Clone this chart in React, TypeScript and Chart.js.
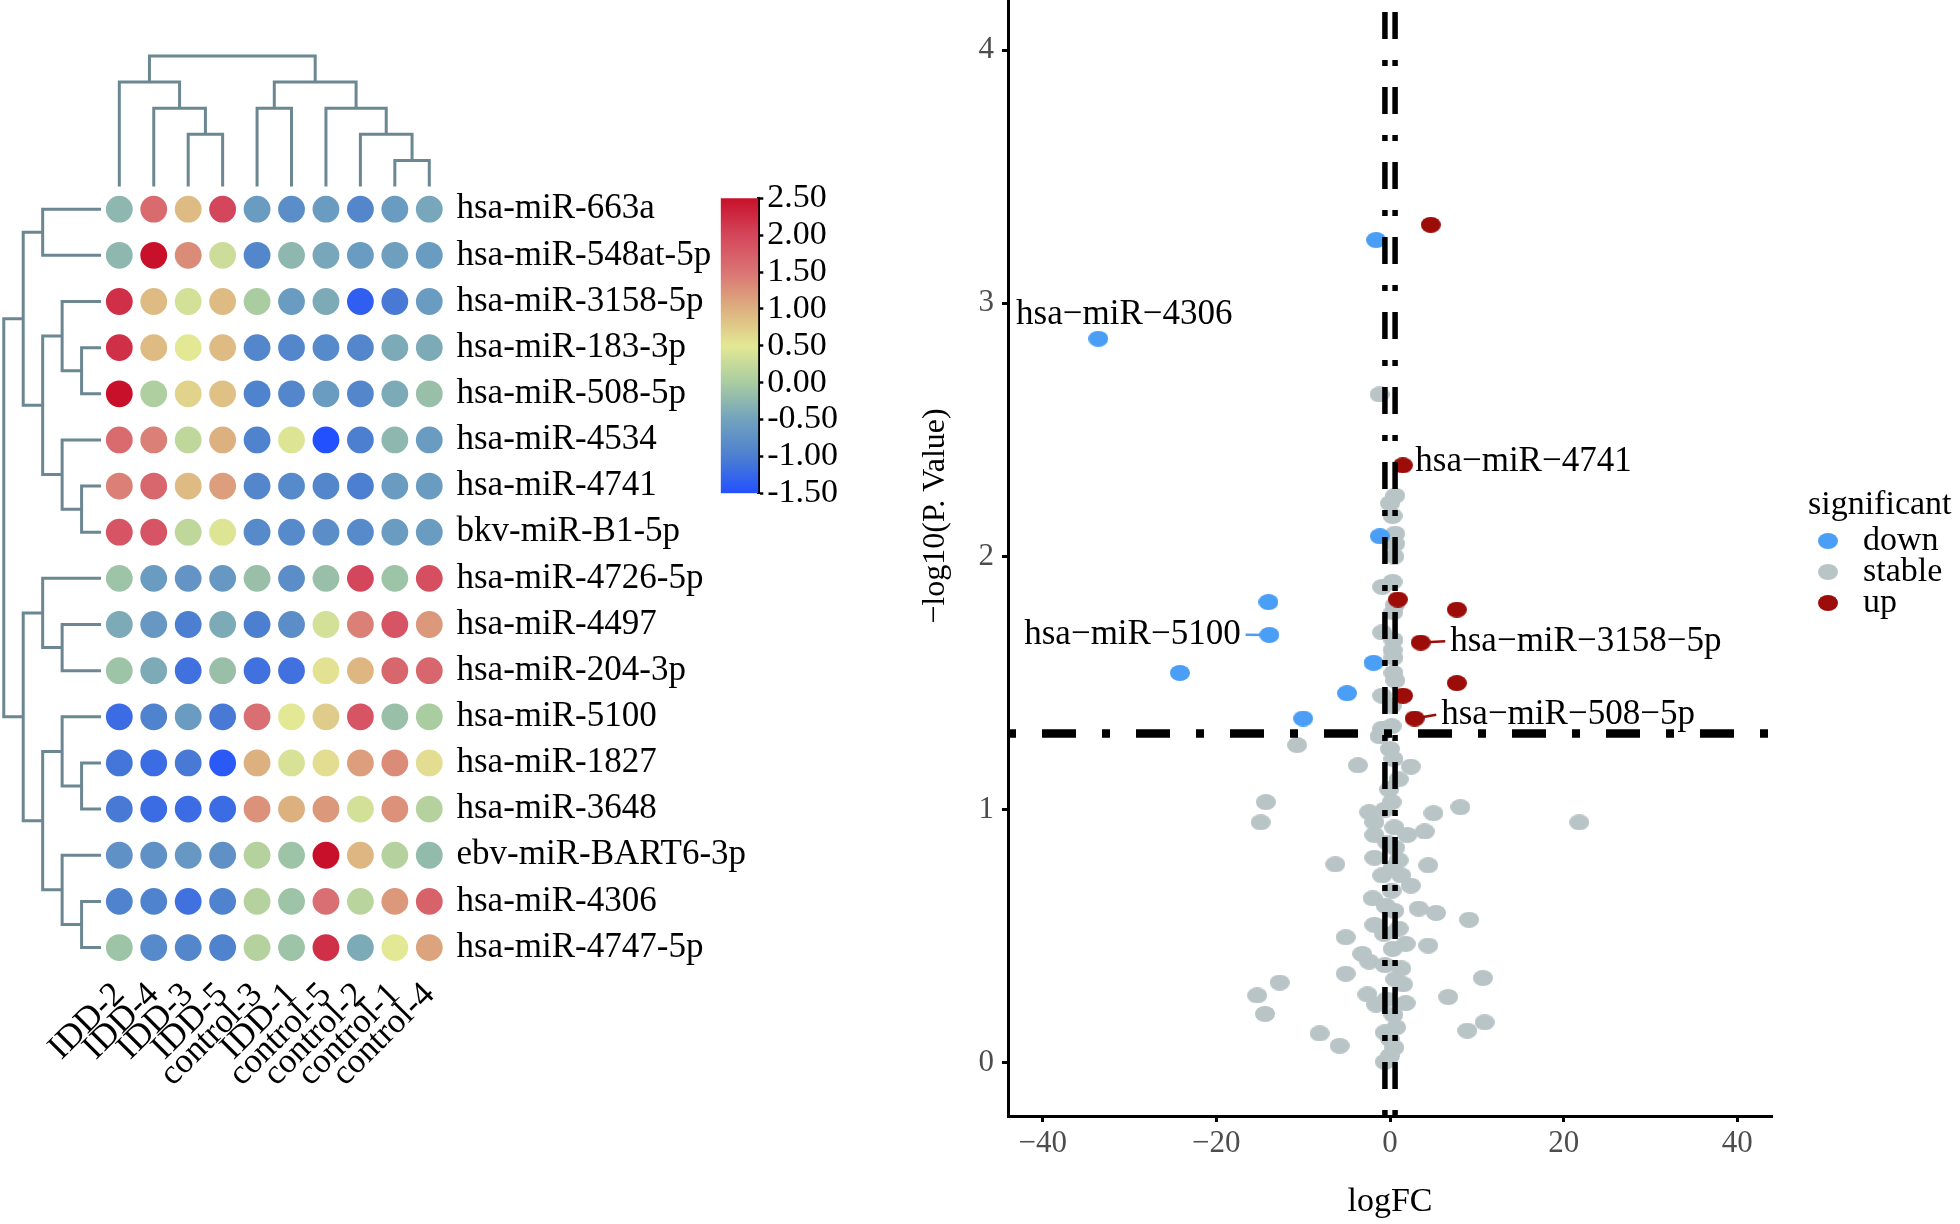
import React, { useEffect, useRef } from 'react';
import { Chart, registerables } from 'chart.js';

Chart.register(...registerables);

const SERIF = '"Liberation Serif", "Times New Roman", Times, serif';

// ---------------- heatmap data ----------------
const sampleNames = ['IDD-2', 'IDD-4', 'IDD-3', 'IDD-5', 'control-3', 'IDD-1', 'control-5', 'control-2', 'control-1', 'control-4'];
const mirnaNames = [
  'hsa-miR-663a', 'hsa-miR-548at-5p', 'hsa-miR-3158-5p', 'hsa-miR-183-3p', 'hsa-miR-508-5p',
  'hsa-miR-4534', 'hsa-miR-4741', 'bkv-miR-B1-5p', 'hsa-miR-4726-5p', 'hsa-miR-4497',
  'hsa-miR-204-3p', 'hsa-miR-5100', 'hsa-miR-1827', 'hsa-miR-3648', 'ebv-miR-BART6-3p',
  'hsa-miR-4306', 'hsa-miR-4747-5p',
];
const zScores = [
  [-0.25, 1.6, 0.9, 2.0, -0.6, -0.8, -0.6, -0.9, -0.6, -0.45],
  [-0.25, 2.5, 1.3, 0.3, -0.9, -0.25, -0.45, -0.6, -0.55, -0.6],
  [2.2, 0.9, 0.35, 0.9, 0.0, -0.6, -0.4, -1.35, -1.05, -0.6],
  [2.2, 0.9, 0.5, 0.9, -0.9, -0.9, -0.85, -0.9, -0.4, -0.4],
  [2.5, 0.05, 0.7, 0.85, -0.95, -0.9, -0.6, -0.9, -0.4, -0.15],
  [1.6, 1.4, 0.2, 1.0, -0.95, 0.45, -1.5, -1.0, -0.25, -0.6],
  [1.4, 1.65, 0.9, 1.15, -0.9, -0.85, -0.9, -1.0, -0.6, -0.6],
  [1.85, 1.85, 0.2, 0.45, -0.85, -0.85, -0.8, -0.85, -0.6, -0.6],
  [-0.1, -0.6, -0.7, -0.65, -0.15, -0.8, -0.15, 2.0, -0.1, 1.9],
  [-0.4, -0.65, -1.0, -0.4, -1.0, -0.8, 0.35, 1.4, 1.85, 1.2],
  [-0.1, -0.4, -1.15, -0.15, -1.15, -1.15, 0.55, 0.95, 1.65, 1.65],
  [-1.2, -0.95, -0.6, -1.05, 1.55, 0.5, 0.75, 1.85, -0.15, 0.0],
  [-1.1, -1.2, -1.05, -1.4, 1.0, 0.4, 0.6, 1.15, 1.3, 0.6],
  [-1.05, -1.2, -1.2, -1.2, 1.25, 1.0, 1.2, 0.35, 1.25, 0.1],
  [-0.75, -0.75, -0.65, -0.75, 0.1, -0.1, 2.5, 0.95, 0.1, -0.2],
  [-0.95, -0.95, -1.15, -0.95, 0.1, -0.1, 1.55, 0.15, 1.2, 1.7],
  [-0.1, -0.85, -0.9, -0.95, 0.1, -0.1, 2.2, -0.4, 0.5, 1.1],
];
// merges: [childA, childB, height]; ids < n are leaves, id n+k is merge k
const colMerges = [
  [2, 3, 2], [1, 10, 3], [0, 11, 4], [8, 9, 1], [7, 13, 2],
  [6, 14, 3], [4, 5, 3], [16, 15, 4], [12, 17, 5],
];
const rowMerges = [
  [3, 4, 1], [2, 17, 2], [6, 7, 1], [5, 19, 2], [18, 20, 3], [0, 1, 3],
  [22, 21, 4], [9, 10, 2], [8, 24, 3], [12, 13, 1], [11, 26, 2], [15, 16, 1],
  [14, 28, 2], [27, 29, 3], [25, 30, 4], [23, 31, 5],
];
const scaleBreaks = [-1.5, -1, -0.5, 0, 0.5, 1, 1.5, 2, 2.5];
const scaleColors = ['#2350ff', '#4c7fd0', '#72a2bd', '#a9cca1', '#e3e894', '#ddb07f', '#da7474', '#d4465b', '#c8102a'];
const colorbarTicks = [-1.5, -1, -0.5, 0, 0.5, 1, 1.5, 2, 2.5];

// ---------------- volcano data ----------------
const downX = [-33.6, -1.6, -1.17, -14.0, -13.9, -24.2, -1.9, -4.95, -10.0];
const downY = [2.86, 3.25, 2.08, 1.82, 1.69, 1.54, 1.58, 1.46, 1.36];
const upX = [4.7, 1.48, 0.9, 7.7, 3.54, 7.7, 1.5, 2.84];
const upY = [3.31, 2.36, 1.83, 1.79, 1.66, 1.5, 1.45, 1.36];
const stableX = [
  -1.2, 0.6, 0.0, 0.3, 0.6, 0.6, 0.5, 0.3, -0.9, 0.6, 0.4, -0.9, 0.4, 0.3, 0.4, 0.4, 0.6, -0.9, 0.2, 0.2, -0.9,
  -1.2, 0.0, 0.4, 1.0, -0.1, 0.2, -0.6, -2.4, -1.8, 0.5, 2.0, -1.8, -0.3, 0.6, -1.8, 1.0, 0.3, -0.9, 1.3, 2.4,
  0.2, -2.0, -0.5, 0.5, -1.8, 1.0, -0.7, 1.8, 0.3, -3.2, -2.4, -0.6, 1.3, 0.6, 1.5, -2.6, -0.4, 1.8, -1.6, 0.4,
  0.7, -0.6, 0.0, 0.5, 0.0, -0.6,
  -10.7, -3.7, 2.4, -14.3, -14.9, 5.0, 8.1, 21.8, 4.0, -6.3, 4.4, 3.3, 5.3, 9.1, -5.1, 4.4, -5.1, -12.7, 10.7,
  -15.3, 6.7, -14.4, 10.9, 8.9, -8.1, -5.8,
];
const stableY = [
  2.64, 2.24, 2.21, 2.16, 2.09, 2.05, 2.0, 1.9, 1.88, 1.81, 1.78, 1.7, 1.67, 1.63, 1.6, 1.54, 1.51, 1.45, 1.41, 1.33, 1.32,
  1.29, 1.24, 1.2, 1.12, 1.08, 1.03, 1.0, 0.99, 0.95, 0.93, 0.9, 0.9, 0.87, 0.85, 0.81, 0.8, 0.77, 0.74, 0.74, 0.7,
  0.68, 0.65, 0.62, 0.6, 0.545, 0.53, 0.51, 0.47, 0.45, 0.43, 0.4, 0.386, 0.373, 0.33, 0.31, 0.27, 0.25, 0.236, 0.23, 0.19,
  0.14, 0.12, 0.094, 0.06, 0.027, 0.004,
  1.255, 1.175, 1.17, 1.03, 0.95, 0.986, 1.01, 0.95, 0.914, 0.784, 0.78, 0.609, 0.592, 0.565, 0.496, 0.463, 0.352, 0.317, 0.335,
  0.266, 0.26, 0.193, 0.16, 0.127, 0.116, 0.067,
];
const groupNames = ['down', 'stable', 'up'];
const groupColors = ['#4a9ef5', '#b8c4c5', '#9c0c08'];
const fcCut = [-0.585, 0.585];
const pCut = 1.301;
const vxTicks = [-40, -20, 0, 20, 40];
const vyTicks = [0, 1, 2, 3, 4];

const labelNames = ['hsa\u2212miR\u22124306', 'hsa\u2212miR\u22124741', 'hsa\u2212miR\u22125100', 'hsa\u2212miR\u22123158\u22125p', 'hsa\u2212miR\u2212508\u22125p'];
const labelGroup = [0, 2, 0, 2, 2];
const labelPointX = [-33.6, 1.48, -13.9, 3.54, 2.84];
const labelPointY = [2.86, 2.36, 1.69, 1.66, 1.36];
const labelTextX = [-43.07, 2.91, -17.2, 6.94, 5.9];
const labelTextY = [2.955, 2.376, 1.691, 1.665, 1.375];
const labelAlign = ['left', 'left', 'right', 'left', 'left'];
const labelSegment = [false, false, true, true, true];

// ---------------- helpers ----------------
function hexToRgb(h: string) {
  const n = parseInt(h.slice(1), 16);
  return [(n >> 16) & 255, (n >> 8) & 255, n & 255];
}
function colorFor(v: number) {
  const last = scaleBreaks.length - 1;
  const c = Math.max(scaleBreaks[0], Math.min(scaleBreaks[last], v));
  let i = 0;
  while (i < last - 1 && c > scaleBreaks[i + 1]) i++;
  const t = (c - scaleBreaks[i]) / (scaleBreaks[i + 1] - scaleBreaks[i]);
  const a = hexToRgb(scaleColors[i]);
  const b = hexToRgb(scaleColors[i + 1]);
  const m = a.map((av, k) => Math.round(av + (b[k] - av) * t));
  return `rgb(${m[0]},${m[1]},${m[2]})`;
}
function dendroSegments(merges: number[][], n: number) {
  const pos: number[] = [];
  const h: number[] = [];
  for (let i = 0; i < n; i++) { pos[i] = i; h[i] = 0; }
  const out: number[][][] = [];
  merges.forEach(([a, b, ht], k) => {
    pos[n + k] = (pos[a] + pos[b]) / 2;
    h[n + k] = ht;
    out.push([[pos[a], h[a]], [pos[a], ht], [pos[b], ht], [pos[b], h[b]]]);
  });
  return out;
}
function ellipseImage(color: string, w: number, h: number) {
  const c = document.createElement('canvas');
  c.width = w; c.height = h;
  const g = c.getContext('2d')!;
  g.fillStyle = color;
  g.beginPath();
  g.ellipse(w / 2, h / 2, w / 2, h / 2, 0, 0, Math.PI * 2);
  g.fill();
  return c;
}
function fixSize(w: number | null, h: number | null) {
  return (s: any) => {
    if (w !== null) s.width = w;
    if (h !== null) s.height = h;
    s.paddingTop = 0; s.paddingBottom = 0; s.paddingLeft = 0; s.paddingRight = 0;
  };
}

// layout constants (axis units)
const COL_DENDRO_BASE = -0.49;
const COL_DENDRO_STEP = 0.566;
const ROW_DENDRO_BASE = -0.53;
const ROW_DENDRO_STEP = 0.565;

const HEAT_W = 820;
const HEAT_H = 1100;
const BAR_W = 200;
const BAR_H = 360;

function heatmapConfig(): any {
  const cells: any[] = [];
  zScores.forEach((row, r) => row.forEach((_v, c) => cells.push({ x: c, y: r })));
  const cellColors = zScores.flat().map(colorFor);
  const lineStyle = {
    showLine: true, borderColor: '#6b8791', borderWidth: 3, pointRadius: 0, fill: false,
    tension: 0, clip: false, borderCapStyle: 'butt', borderJoinStyle: 'miter', order: 1,
  };
  const colSegs = dendroSegments(colMerges, sampleNames.length).map((seg) => ({
    ...lineStyle,
    data: seg.map(([p, h]) => ({ x: p, y: COL_DENDRO_BASE - h * COL_DENDRO_STEP })),
  }));
  const rowSegs = dendroSegments(rowMerges, mirnaNames.length).map((seg) => ({
    ...lineStyle,
    data: seg.map(([p, h]) => ({ x: ROW_DENDRO_BASE - h * ROW_DENDRO_STEP, y: p })),
  }));
  return {
    type: 'scatter',
    data: {
      datasets: [
        {
          data: cells, backgroundColor: cellColors, borderColor: cellColors, borderWidth: 0,
          pointRadius: 13.4, pointHoverRadius: 13.4, order: 0,
        },
        ...colSegs,
        ...rowSegs,
      ],
    },
    options: {
      responsive: false, animation: false, events: [],
      layout: { padding: { top: 50, left: 0, right: 0, bottom: 0 }, autoPadding: false },
      plugins: { legend: { display: false }, tooltip: { enabled: false } },
      scales: {
        x: {
          type: 'linear', min: -3.464, max: 9.5,
          afterBuildTicks: (s: any) => { s.ticks = sampleNames.map((_n, i) => ({ value: i })); },
          afterFit: fixSize(null, HEAT_H - 970.6),
          grid: { display: false, drawTicks: false, tickLength: 0 },
          border: { display: false },
          ticks: {
            autoSkip: false, minRotation: 45, maxRotation: 45, padding: 4, color: '#000',
            font: { family: SERIF, size: 35 },
            callback: (v: any) => sampleNames[v],
          },
        },
        y: {
          type: 'linear', reverse: true, min: -3.45, max: 16.5, position: 'right',
          afterBuildTicks: (s: any) => { s.ticks = mirnaNames.map((_n, i) => ({ value: i })); },
          afterFit: fixSize(HEAT_W - 446.5, null),
          grid: { display: false, drawTicks: false, tickLength: 0 },
          border: { display: false },
          ticks: {
            autoSkip: false, padding: 10, color: '#000',
            font: { family: SERIF, size: 35 },
            callback: (v: any) => mirnaNames[v],
          },
        },
      },
    },
  };
}

function colorbarConfig(): any {
  const b0 = scaleBreaks[0];
  const bN = scaleBreaks[scaleBreaks.length - 1];
  return {
    type: 'bar',
    data: {
      labels: [''],
      datasets: [{
        data: [[b0, bN]],
        borderWidth: 0, barPercentage: 1, categoryPercentage: 1,
        backgroundColor: (ctx: any) => {
          const chart = ctx.chart;
          if (!chart.chartArea) return scaleColors[0];
          const ys = chart.scales.y;
          const g = chart.ctx.createLinearGradient(0, ys.getPixelForValue(b0), 0, ys.getPixelForValue(bN));
          scaleBreaks.forEach((b, i) => g.addColorStop((b - b0) / (bN - b0), scaleColors[i]));
          return g;
        },
      }],
    },
    options: {
      responsive: false, animation: false, events: [],
      layout: { padding: { left: 30.7, top: 38.3, bottom: 26.7, right: 0 }, autoPadding: false },
      plugins: { legend: { display: false }, tooltip: { enabled: false } },
      scales: {
        x: { display: false },
        y: {
          position: 'right', min: b0, max: bN,
          afterBuildTicks: (s: any) => { s.ticks = colorbarTicks.map((v) => ({ value: v })); },
          afterFit: fixSize(BAR_W - 68.3, null),
          grid: { display: true, drawOnChartArea: false, drawTicks: true, tickLength: 5, tickWidth: 2.5, tickColor: '#000' },
          border: { display: true, color: '#000', width: 3 },
          ticks: {
            autoSkip: false, padding: 4, color: '#000', font: { family: SERIF, size: 34 },
            callback: (v: any) => Number(v).toFixed(2),
          },
        },
      },
    },
  };
}

function volcanoConfig(): any {
  const imgs = groupColors.map((c) => ellipseImage(c, 20, 16));
  const pts = (xs: number[], ys: number[]) => xs.map((x, i) => ({ x, y: ys[i] }));
  const dashV = { showLine: true, pointRadius: 0, borderColor: '#000', borderWidth: 5.5, borderDash: [6, 21, 27, 21], borderCapStyle: 'butt', fill: false, order: 0 };
  const yMin = -0.21;
  const yMax = 4.53;
  const xMin = -44;
  const xMax = 44;

  const labelPlugin = {
    id: 'geneLabels',
    afterDatasetsDraw(chart: any) {
      const { ctx, scales } = chart;
      const xs = scales.x;
      const ys = scales.y;
      ctx.save();
      ctx.font = `35px ${SERIF}`;
      ctx.fillStyle = '#000';
      ctx.textBaseline = 'middle';
      labelNames.forEach((name, i) => {
        const px = xs.getPixelForValue(labelPointX[i]);
        const py = ys.getPixelForValue(labelPointY[i]);
        const tx = xs.getPixelForValue(labelTextX[i]);
        const ty = ys.getPixelForValue(labelTextY[i]);
        if (labelSegment[i]) {
          ctx.strokeStyle = groupColors[labelGroup[i]];
          ctx.lineWidth = 2.5;
          ctx.beginPath();
          ctx.moveTo(px, py);
          ctx.lineTo(labelAlign[i] === 'left' ? tx - 5 : tx + 5, ty);
          ctx.stroke();
        }
        ctx.textAlign = labelAlign[i];
        ctx.fillText(name, tx, ty);
      });
      ctx.restore();
    },
  };
  const legendPlugin = {
    id: 'sigLegend',
    afterDraw(chart: any) {
      const { ctx, chartArea } = chart;
      const x0 = chartArea.right + 36;
      const cy = (chartArea.top + chartArea.bottom) / 2;
      ctx.save();
      ctx.fillStyle = '#000';
      ctx.textBaseline = 'middle';
      ctx.textAlign = 'left';
      ctx.font = `34px ${SERIF}`;
      ctx.fillText('significant', x0, cy - 11);
      groupNames.forEach((name, i) => {
        const y = cy + 25 + i * 31;
        const im = imgs[i];
        ctx.drawImage(im, x0 + 20 - im.width / 2, y - im.height / 2);
        ctx.fillText(name, x0 + 55, y);
      });
      ctx.restore();
    },
  };

  const axisCommon = {
    grid: { display: true, drawOnChartArea: false, drawTicks: true, tickLength: 6, tickWidth: 3, tickColor: '#000' },
    border: { display: true, color: '#000', width: 3 },
  };

  return {
    type: 'scatter',
    data: {
      datasets: [
        { label: groupNames[1], data: pts(stableX, stableY), pointStyle: imgs[1], pointRadius: 9.5, backgroundColor: groupColors[1], order: 3 },
        { label: groupNames[0], data: pts(downX, downY), pointStyle: imgs[0], pointRadius: 9.5, backgroundColor: groupColors[0], order: 2 },
        { label: groupNames[2], data: pts(upX, upY), pointStyle: imgs[2], pointRadius: 9.5, backgroundColor: groupColors[2], order: 2 },
        { ...dashV, data: [{ x: fcCut[0], y: yMin }, { x: fcCut[0], y: yMax }] },
        { ...dashV, data: [{ x: fcCut[1], y: yMin }, { x: fcCut[1], y: yMax }] },
        {
          showLine: true, pointRadius: 0, borderColor: '#000', borderWidth: 8.5, borderDash: [8, 26, 34, 26],
          borderCapStyle: 'butt', fill: false, order: 0,
          data: [{ x: xMin, y: pCut }, { x: xMax, y: pCut }],
        },
      ],
    },
    options: {
      responsive: false, animation: false, events: [],
      layout: { padding: { top: 0, left: 12, right: 188, bottom: 0 }, autoPadding: false },
      plugins: { legend: { display: false }, tooltip: { enabled: false } },
      scales: {
        x: {
          type: 'linear', min: xMin, max: xMax,
          afterBuildTicks: (s: any) => { s.ticks = vxTicks.map((v) => ({ value: v })); },
          afterFit: fixSize(null, 108),
          ...axisCommon,
          ticks: {
            padding: 3, color: '#4d4d4d', font: { family: SERIF, size: 31 },
            callback: (v: any) => (v < 0 ? '\u2212' + Math.abs(v) : String(v)),
          },
          title: { display: true, text: 'logFC', color: '#000', font: { family: SERIF, size: 34 }, padding: { top: 0, bottom: 2 } },
        },
        y: {
          type: 'linear', min: yMin, max: yMax,
          afterBuildTicks: (s: any) => { s.ticks = vyTicks.map((v) => ({ value: v })); },
          afterFit: fixSize(96, null),
          ...axisCommon,
          ticks: { padding: 8, color: '#4d4d4d', font: { family: SERIF, size: 31 } },
          title: { display: true, text: '\u2212log10(P. Value)', color: '#000', font: { family: SERIF, size: 32 }, padding: { top: 4, bottom: 4 } },
        },
      },
    },
    plugins: [labelPlugin, legendPlugin],
  };
}

export default function App() {
  const heatRef = useRef<HTMLCanvasElement>(null);
  const barRef = useRef<HTMLCanvasElement>(null);
  const volRef = useRef<HTMLCanvasElement>(null);

  useEffect(() => {
    const charts = [
      new Chart(heatRef.current!, heatmapConfig()),
      new Chart(barRef.current!, colorbarConfig()),
      new Chart(volRef.current!, volcanoConfig()),
    ];
    return () => charts.forEach((c) => c.destroy());
  }, []);

  return (
    <div style={{ position: 'fixed', left: 0, top: 0, width: 1960, height: 1224, overflow: 'hidden', background: '#fff' }}>
      <canvas ref={heatRef} width={HEAT_W} height={HEAT_H} style={{ position: 'absolute', left: 0, top: 0, width: HEAT_W, height: HEAT_H }} />
      <canvas ref={barRef} width={BAR_W} height={BAR_H} style={{ position: 'absolute', left: 690, top: 160, width: BAR_W, height: BAR_H }} />
      <canvas ref={volRef} width={1060} height={1308} style={{ position: 'absolute', left: 900, top: -84, width: 1060, height: 1308 }} />
    </div>
  );
}
